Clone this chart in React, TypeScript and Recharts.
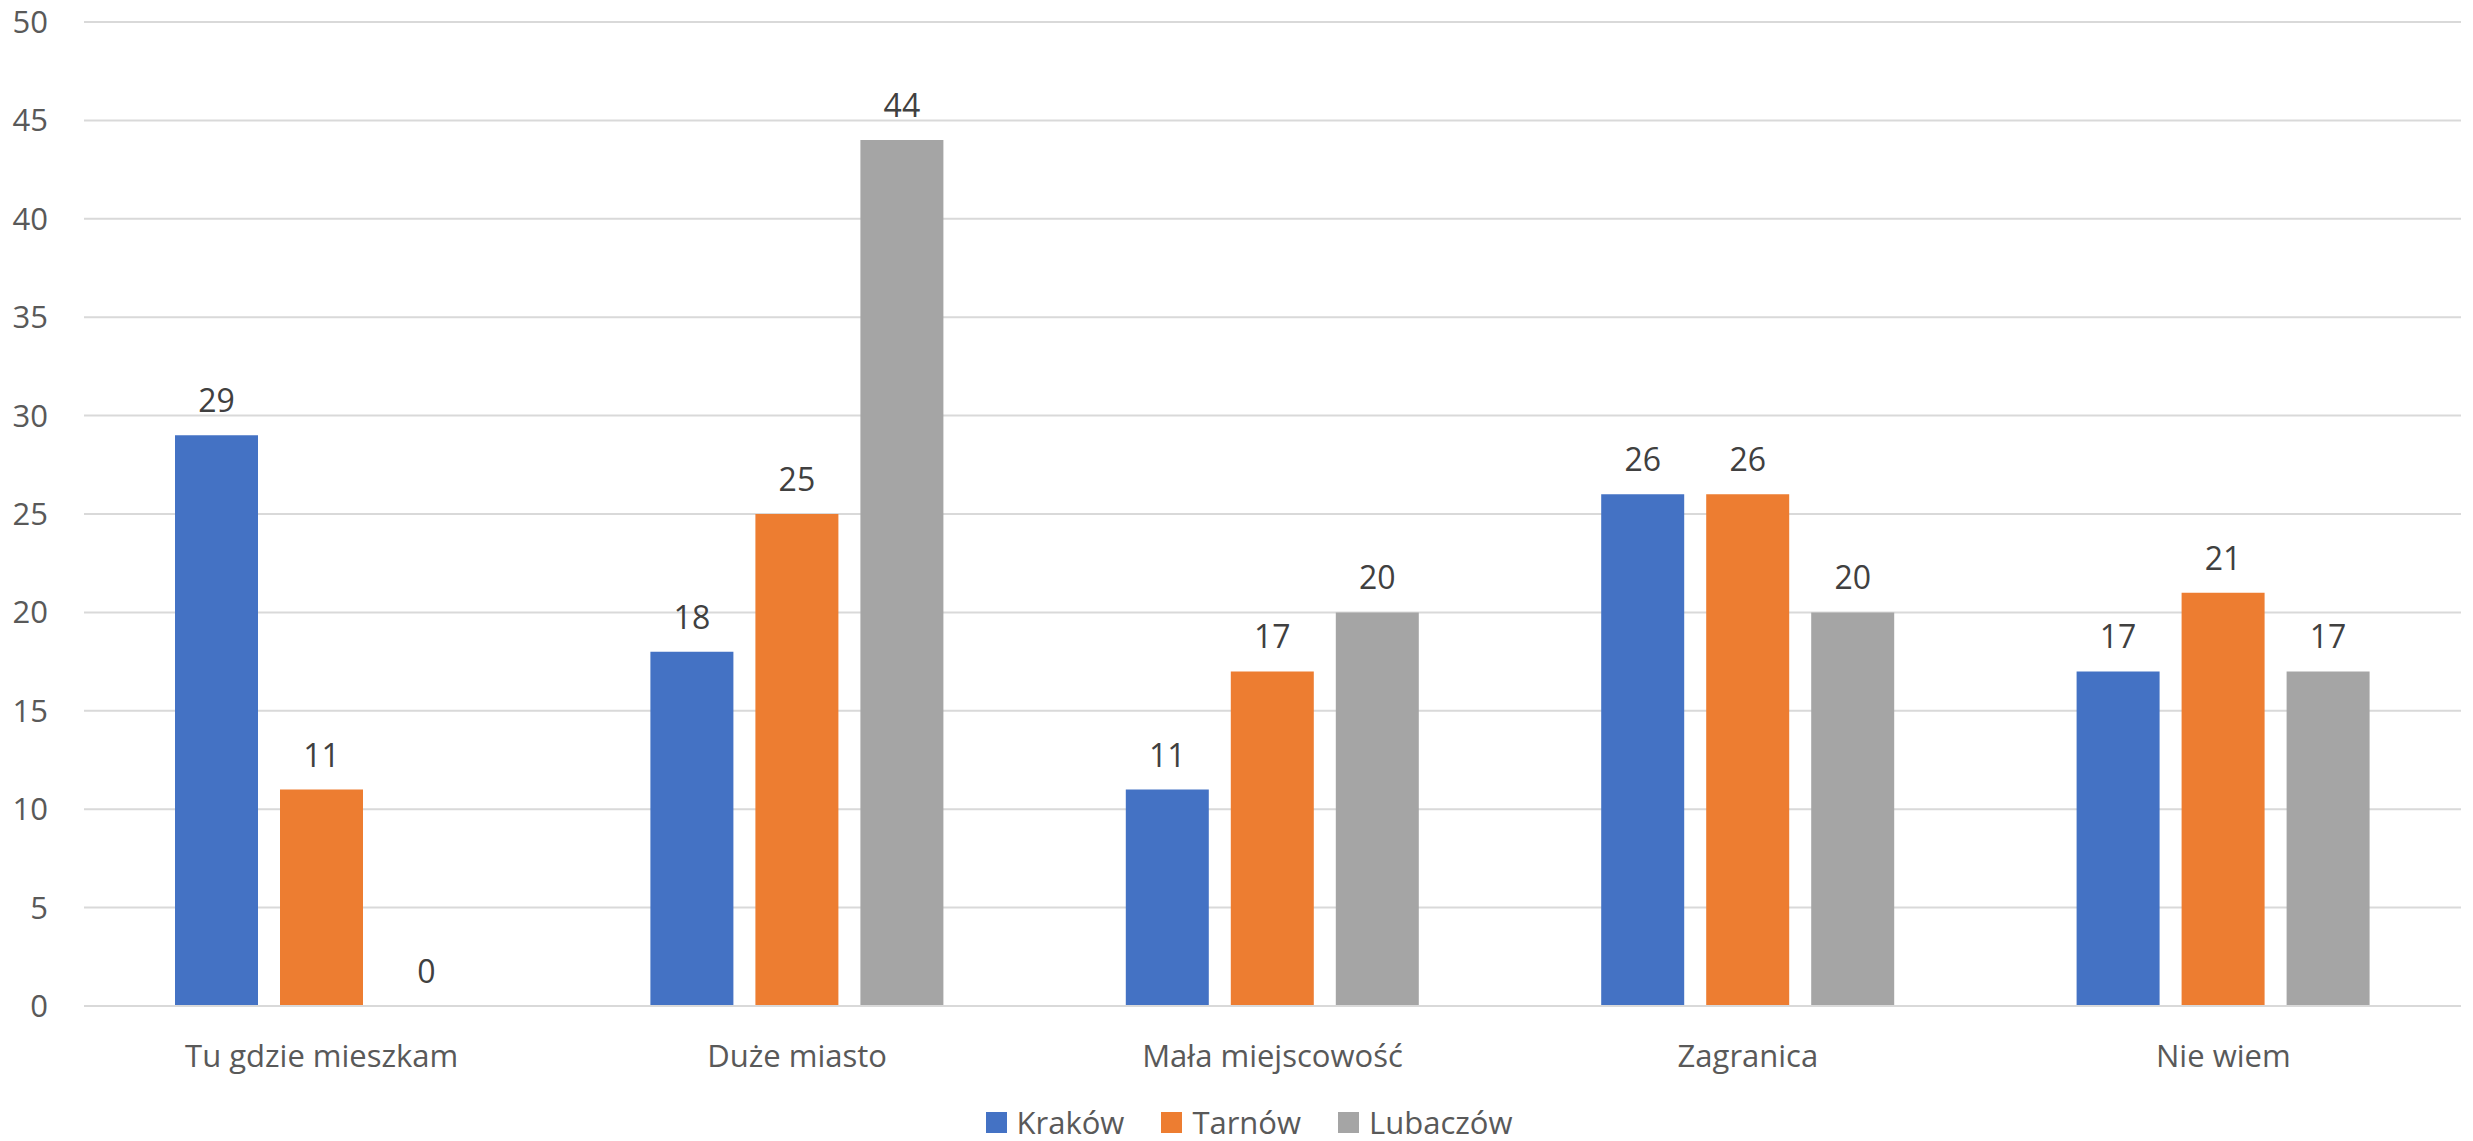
import { BarChart, Bar, XAxis, YAxis, CartesianGrid, Legend, LabelList } from 'recharts';

const categories = ['Tu gdzie mieszkam', 'Duże miasto', 'Mała miejscowość', 'Zagranica', 'Nie wiem'];
const krakow = [29, 18, 11, 26, 17];
const tarnow = [11, 25, 17, 26, 21];
const lubaczow = [0, 44, 20, 20, 17];
const yTicks = [0, 5, 10, 15, 20, 25, 30, 35, 40, 45, 50];

const series = [
  { key: 'krakow', name: 'Kraków', color: '#4472C4' },
  { key: 'tarnow', name: 'Tarnów', color: '#ED7D31' },
  { key: 'lubaczow', name: 'Lubaczów', color: '#A5A5A5' },
];

const data = categories.map((category, i) => ({
  category,
  krakow: krakow[i],
  tarnow: tarnow[i],
  lubaczow: lubaczow[i],
}));

const FONT = '"Open Sans", "Noto Sans", sans-serif';

// value labels drawn by hand so the 0 bar still gets its number
const renderValue = (props: any) => {
  const { x, y, width, value } = props;
  if (value == null) return null;
  return (
    <text
      x={Number(x) + Number(width) / 2}
      y={Number(y) - 23}
      textAnchor="middle"
      fill="#404040"
      fontSize={32}
      fontFamily={FONT}
    >
      {value}
    </text>
  );
};

const renderLegend = () => (
  <div
    style={{
      display: 'flex',
      justifyContent: 'center',
      alignItems: 'center',
      height: 36,
      fontFamily: FONT,
      fontSize: 31,
      color: '#595959',
    }}
  >
    {series.map((s, i) => (
      <div key={s.key} style={{ display: 'flex', alignItems: 'center', marginLeft: i ? 37 : 0 }}>
        <span style={{ display: 'inline-block', width: 21, height: 21, background: s.color, marginRight: 10 }} />
        {s.name}
      </div>
    ))}
  </div>
);

export default function App() {
  return (
    <div style={{ position: 'absolute', left: 0, top: 0, width: 2473, height: 1141, background: '#fff' }}>
      <BarChart
        width={2473}
        height={1141}
        data={data}
        margin={{ top: 22, right: 12, left: 24, bottom: 0 }}
        barCategoryGap={91}
        barGap={22}
      >
        <CartesianGrid vertical={false} stroke="#D9D9D9" strokeWidth={2} />
        <XAxis
          dataKey="category"
          height={99}
          tickLine={false}
          tickSize={0}
          tickMargin={39}
          axisLine={{ stroke: '#D9D9D9', strokeWidth: 2 }}
          tick={{ fill: '#595959', fontSize: 31, fontFamily: FONT }}
        />
        <YAxis
          width={60}
          domain={[0, 50]}
          ticks={yTicks}
          interval={0}
          axisLine={false}
          tickLine={false}
          tickSize={0}
          tickMargin={36}
          tick={{ fill: '#595959', fontSize: 31, fontFamily: FONT }}
        />
        <Legend
          verticalAlign="bottom"
          content={renderLegend}
          wrapperStyle={{ left: 0, width: 2473, top: 1104, bottom: 'auto', paddingLeft: 25, boxSizing: 'border-box' }}
        />
        {series.map((s) => (
          <Bar
            key={s.key}
            dataKey={s.key}
            name={s.name}
            fill={s.color}
            minPointSize={0.01}
            isAnimationActive={false}
          >
            <LabelList dataKey={s.key} content={renderValue} />
          </Bar>
        ))}
      </BarChart>
    </div>
  );
}
